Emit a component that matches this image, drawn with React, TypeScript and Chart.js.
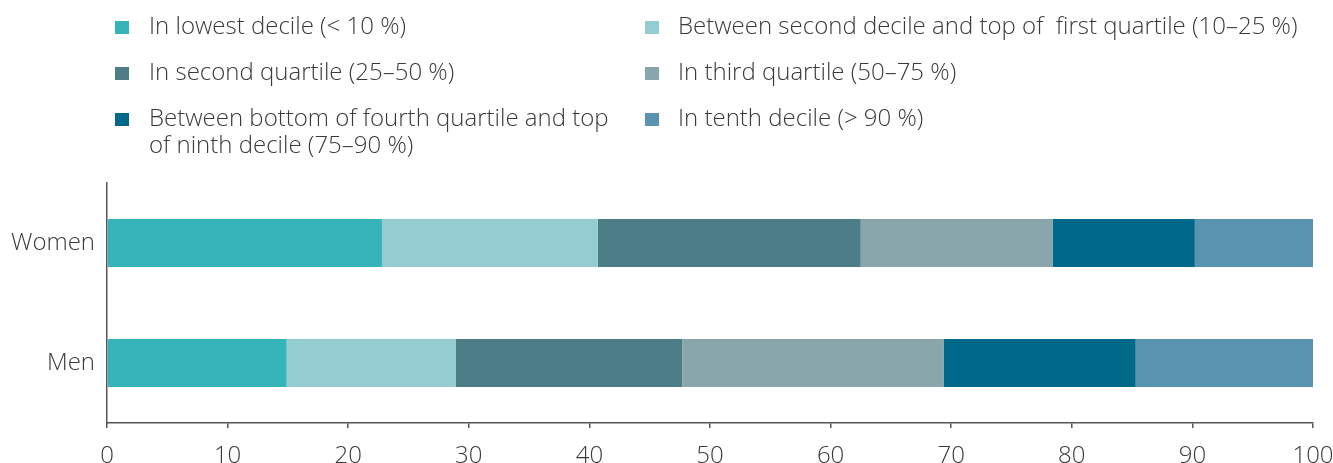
import React, { useEffect, useRef } from "react";
import { Chart, registerables } from "chart.js";

Chart.register(...registerables);

const categories = ["Women", "Men"];
const seriesLabels = [
  "In lowest decile (< 10 %)",
  "Between second decile and top of  first quartile (10–25 %)",
  "In second quartile (25–50 %)",
  "In third quartile (50–75 %)",
  "Between bottom of fourth quartile and top of ninth decile (75–90 %)",
  "In tenth decile (> 90 %)",
];
const lowestDecile = [22.8, 14.9];
const secondDecileToQ1 = [17.9, 14.0];
const secondQuartile = [21.8, 18.8];
const thirdQuartile = [15.9, 21.7];
const fourthQToNinthDecile = [11.8, 15.9];
const tenthDecile = [9.9, 14.7];
const colors = ["#36b4ba", "#93cdd1", "#4d7d87", "#8aa6ad", "#006888", "#5a94b0"];
const xTicks = [0, 10, 20, 30, 40, 50, 60, 70, 80, 90, 100];

const seriesValues = [
  lowestDecile,
  secondDecileToQ1,
  secondQuartile,
  thirdQuartile,
  fourthQToNinthDecile,
  tenthDecile,
];

const FONT = "'Open Sans', 'Noto Sans', sans-serif";
const TEXT = "#3a3a3a";
const CANVAS_W = 1351;
const CANVAS_H = 483;

export default function App() {
  const ref = useRef<HTMLCanvasElement | null>(null);

  useEffect(() => {
    if (!ref.current) return;
    const chart = new Chart(ref.current, {
      type: "bar",
      data: {
        labels: categories,
        datasets: seriesValues.map((vals, i) => ({
          label: seriesLabels[i],
          data: vals,
          backgroundColor: colors[i],
          borderWidth: 0,
          categoryPercentage: 1,
          barPercentage: 0.4,
        })),
      },
      options: {
        indexAxis: "y",
        animation: false,
        responsive: false,
        maintainAspectRatio: false,
        layout: { padding: { top: 183, right: 38, bottom: 0, left: 0 } },
        plugins: { legend: { display: false }, tooltip: { enabled: false } },
        scales: {
          x: {
            stacked: true,
            min: 0,
            max: 100,
            afterBuildTicks: (scale: any) => {
              scale.ticks = xTicks.map((v) => ({ value: v }));
            },
            afterFit: (scale: any) => {
              scale.height = 60;
            },
            grid: {
              display: true,
              drawOnChartArea: false,
              drawTicks: true,
              tickLength: 5,
              color: "#555",
              lineWidth: 1.5,
            },
            border: { display: true, color: "#555", width: 1.5 },
            ticks: {
              color: TEXT,
              padding: 14,
              font: { family: FONT, size: 24, weight: "300" as any },
              maxRotation: 0,
            },
          },
          y: {
            stacked: true,
            afterFit: (scale: any) => {
              scale.width = 107;
            },
            grid: { display: true, drawOnChartArea: false, drawTicks: false },
            border: { display: true, color: "#555", width: 1.5 },
            ticks: {
              color: TEXT,
              padding: 12,
              font: { family: FONT, size: 24, weight: "300" as any },
            },
          },
        },
      },
    });
    return () => chart.destroy();
  }, []);

  const legendItem = (i: number, left: number, top: number, textWidth: number, gap: number) => (
    <div
      key={i}
      style={{
        position: "absolute",
        left,
        top,
        display: "flex",
        alignItems: "flex-start",
      }}
    >
      <div
        style={{
          width: 14,
          height: 13,
          background: colors[i],
          marginTop: 10,
          marginRight: gap,
          flex: "0 0 auto",
        }}
      />
      <div
        style={{
          width: textWidth,
          whiteSpace: "pre-wrap",
          fontFamily: FONT,
          fontWeight: 300,
          fontSize: 24,
          lineHeight: "27px",
          color: TEXT,
        }}
      >
        {seriesLabels[i]}
      </div>
    </div>
  );

  return (
    <>
      <style>{`body{margin:0;overflow:hidden}`}</style>
      <div
        style={{
          position: "relative",
          width: 1333,
          height: 463,
          overflow: "hidden",
          background: "#fff",
        }}
      >
        <canvas
          ref={ref}
          width={CANVAS_W}
          height={CANVAS_H}
          style={{ position: "absolute", left: 0, top: 0, width: CANVAS_W, height: CANVAS_H }}
        />
        {legendItem(0, 115, 11, 478, 20)}
        {legendItem(1, 645, 11, 680, 19)}
        {legendItem(2, 115, 57, 478, 20)}
        {legendItem(3, 645, 57, 680, 19)}
        {legendItem(4, 115, 103, 478, 20)}
        {legendItem(5, 645, 103, 680, 19)}
      </div>
    </>
  );
}
